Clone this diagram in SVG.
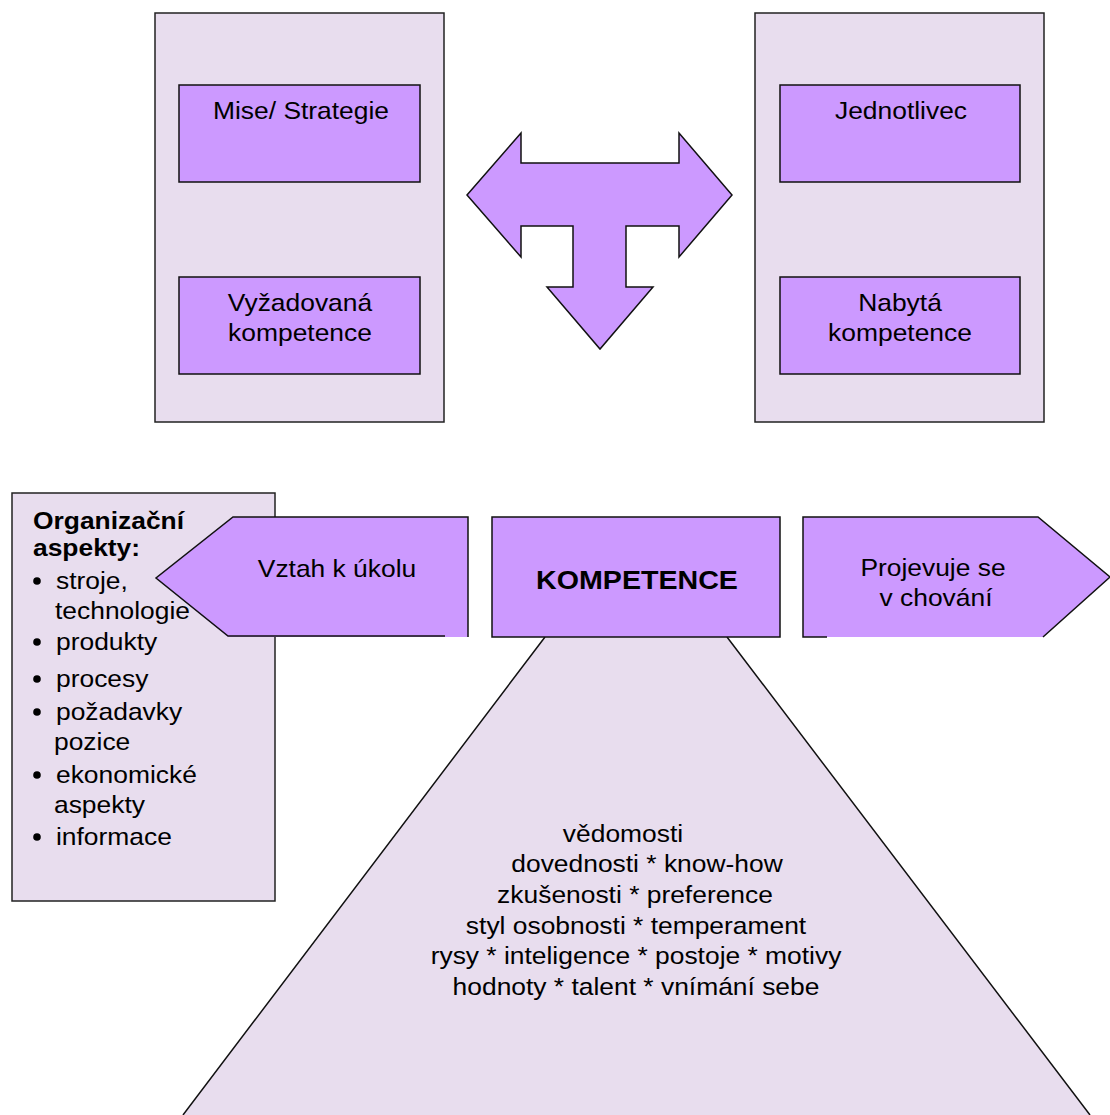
<svg xmlns="http://www.w3.org/2000/svg" width="1110" height="1115" viewBox="0 0 1110 1115">
<style>
.lt{fill:#E8DDEE;stroke:#222;stroke-width:1.5}
.pu{fill:#CC99FF;stroke:#111;stroke-width:1.5}
.nf{stroke:none}
.ln{fill:none;stroke:#111;stroke-width:1.5}
text{font-family:"Liberation Sans",Arial,sans-serif;font-size:24px;fill:#000}
.c{text-anchor:middle}
.b{font-weight:bold}
</style>
<rect width="1110" height="1115" fill="#fff"/>
<g id="left-panel">
<rect class="lt" x="155" y="13" width="289" height="409"/>
</g>
<g id="mise">
<rect class="pu" x="179" y="85" width="241" height="97"/>
<text class="c" transform="translate(301,119) scale(1.1,1)">Mise/ Strategie</text>
</g>
<g id="vyzadovana">
<rect class="pu" x="179" y="277" width="241" height="97"/>
<text class="c" transform="translate(300,311) scale(1.1,1)">Vyžadovaná</text>
<text class="c" transform="translate(300,341) scale(1.1,1)">kompetence</text>
</g>
<g id="right-panel">
<rect class="lt" x="755" y="13" width="289" height="409"/>
</g>
<g id="jednotlivec">
<rect class="pu" x="780" y="85" width="240" height="97"/>
<text class="c" transform="translate(901,119) scale(1.1,1)">Jednotlivec</text>
</g>
<g id="nabyta">
<rect class="pu" x="780" y="277" width="240" height="97"/>
<text class="c" transform="translate(900,311) scale(1.1,1)">Nabytá</text>
<text class="c" transform="translate(900,341) scale(1.1,1)">kompetence</text>
</g>
<g id="connectors">
<path id="t-arrow" class="pu" d="M467,195 L521,133 L521,163 L679,163 L679,133 L732,195 L679,257 L679,226 L626,226 L626,287 L653,287 L600,349 L547,287 L573,287 L573,226 L521,226 L521,257 Z"/>
</g>
<g id="pyramid">
<polygon class="lt nf" points="545,637 727,637 1090,1115 183,1115"/>
<path class="ln" d="M545,637 L183,1115 M727,637 L1090,1115"/>
<text class="c" transform="translate(623,842) scale(1.1,1)">vědomosti</text>
<text class="c" transform="translate(647,872) scale(1.1,1)">dovednosti * know-how</text>
<text class="c" transform="translate(635,903) scale(1.1,1)">zkušenosti * preference</text>
<text class="c" transform="translate(636,934) scale(1.1,1)">styl osobnosti * temperament</text>
<text class="c" transform="translate(636,964) scale(1.1,1)">rysy * inteligence * postoje * motivy</text>
<text class="c" transform="translate(636,995) scale(1.1,1)">hodnoty * talent * vnímání sebe</text>
</g>
<g id="organizacni">
<rect class="lt" x="12" y="493" width="263" height="408"/>
</g>
<g id="vztah">
<polygon class="pu nf" points="156,578 233,517 468,517 468,637 228,637"/>
<path class="ln" d="M445,636 L228,636 L156,578 L233,517 L468,517 L468,637"/>
<text class="c" transform="translate(337,577) scale(1.1,1)">Vztah k úkolu</text>
</g>
<g id="organizacni-text">
<text class="b" transform="translate(33,529) scale(1.1,1)">Organizační</text>
<text class="b" transform="translate(33,556) scale(1.1,1)">aspekty:</text>
<circle cx="37" cy="581" r="3.8"/>
<text transform="translate(56,589) scale(1.1,1)">stroje,</text>
<text transform="translate(55,619) scale(1.1,1)">technologie</text>
<circle cx="37" cy="642" r="3.8"/>
<text transform="translate(56,650) scale(1.1,1)">produkty</text>
<circle cx="37" cy="679" r="3.8"/>
<text transform="translate(56,687) scale(1.1,1)">procesy</text>
<circle cx="37" cy="712" r="3.8"/>
<text transform="translate(56,720) scale(1.1,1)">požadavky</text>
<text transform="translate(54,750) scale(1.1,1)">pozice</text>
<circle cx="37" cy="775" r="3.8"/>
<text transform="translate(56,783) scale(1.1,1)">ekonomické</text>
<text transform="translate(54,813) scale(1.1,1)">aspekty</text>
<circle cx="37" cy="837" r="3.8"/>
<text transform="translate(56,845) scale(1.1,1)">informace</text>
</g>
<g id="kompetence">
<rect class="pu" x="492" y="517" width="288" height="120"/>
<text class="c b" style="font-size:26px" transform="translate(637,589) scale(1.1,1)">KOMPETENCE</text>
</g>
<g id="projevuje">
<polygon class="pu nf" points="803,517 1038,517 1110,577 1043,637 803,637"/>
<path class="ln" d="M827,637 L803,637 L803,517 L1038,517 L1110,577 L1043,637"/>
<text class="c" transform="translate(933,576) scale(1.1,1)">Projevuje se</text>
<text class="c" transform="translate(936,606) scale(1.1,1)">v chování</text>
</g>
</svg>
